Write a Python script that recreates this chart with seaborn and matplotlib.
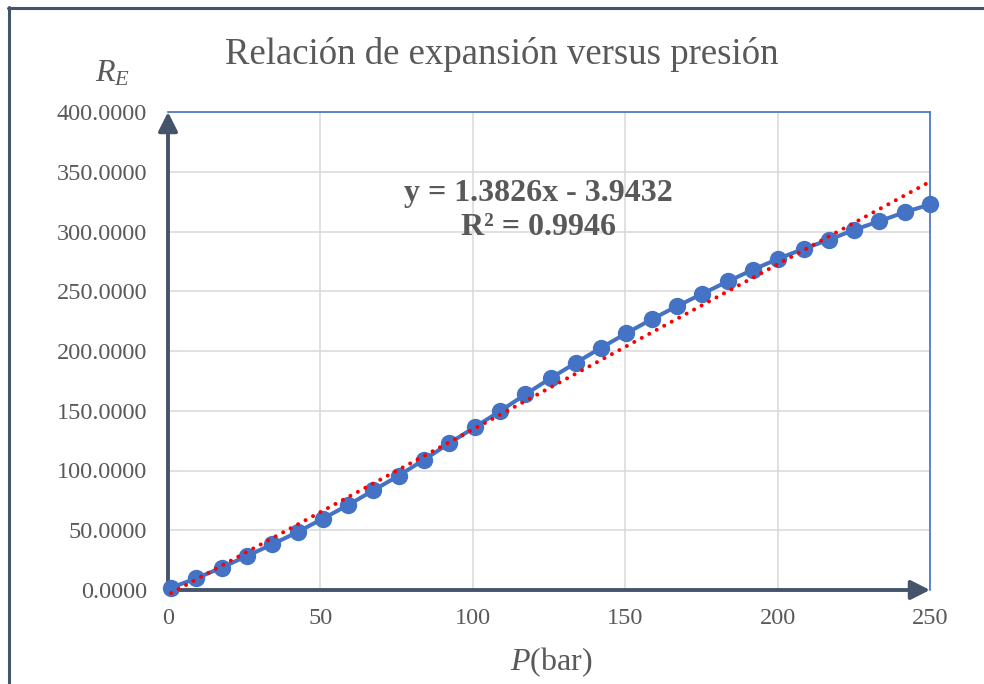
import matplotlib
matplotlib.use("Agg")
import matplotlib.pyplot as plt
import numpy as np
import pandas as pd
import seaborn as sns
from matplotlib.lines import Line2D

# ---- data ----
pressure = [1, 9.3, 17.6, 25.9, 34.2, 42.5, 50.8, 59.1, 67.4, 75.7, 84, 92.3,
            100.6, 108.9, 117.2, 125.5, 133.8, 142.1, 150.4, 158.7, 167, 175.3,
            183.6, 191.9, 200.2, 208.5, 216.8, 225.1, 233.4, 241.7, 250]
ratio = [1.9, 9.8, 18.7, 28.5, 38.2, 48.5, 59.7, 71.1, 83.4, 95.7, 109, 122.8,
         136.2, 149.6, 163.6, 177.2, 190.1, 202.7, 214.9, 226.5, 237.5, 247.9,
         258.2, 268, 277.2, 285.5, 293, 301.4, 308.6, 316.2, 322.6]
trend_slope = 1.3826
trend_intercept = -3.9432
trend_r2 = 0.9946
x_ticks = [0, 50, 100, 150, 200, 250]
y_ticks = [0, 50, 100, 150, 200, 250, 300, 350, 400]
title = "Relación de expansión versus presión"

sns.set_theme(style="white")
plt.rcParams["font.family"] = ["Liberation Serif", "DejaVu Serif"]
plt.rcParams["mathtext.fontset"] = "custom"
plt.rcParams["mathtext.rm"] = "Liberation Serif"
plt.rcParams["mathtext.it"] = "Liberation Serif:italic"

TXT = "#595959"
BLUE = "#4472C4"
DARK = "#44546A"

fig = plt.figure(figsize=(9.84, 6.84), dpi=100)
fig.patch.set_facecolor("white")
ax = fig.add_axes([168 / 984, 1 - 590 / 684, (930 - 168) / 984, (590 - 112) / 684])

df = pd.DataFrame({"P": pressure, "RE": ratio})
sns.lineplot(data=df, x="P", y="RE", ax=ax, color=BLUE, lw=2.9, marker="o",
             markersize=12.5, markeredgewidth=0, clip_on=False, zorder=3)

tx = np.array([pressure[0], pressure[-1]])
ax.plot(tx, trend_slope * tx + trend_intercept, color="#FF0000", lw=2.9,
        linestyle=(0, (0.01, 2.1)), dash_capstyle="round", zorder=4, clip_on=False)

ax.set_xlim(0, 250)
ax.set_ylim(0, 400)
ax.set_xticks(x_ticks)
ax.set_yticks(y_ticks)
ax.set_xticklabels([str(v) for v in x_ticks])
ax.set_yticklabels([f"{v:.4f}" for v in y_ticks])
ax.tick_params(axis="both", length=0, labelsize=17.5, labelcolor=TXT)
ax.tick_params(axis="x", pad=13)
ax.tick_params(axis="y", pad=15)
ax.set_xlabel("")
ax.set_ylabel("")
ax.grid(True, color="#D9D9D9", lw=1.1)
ax.set_axisbelow(True)

for s in ["top", "right"]:
    ax.spines[s].set_color(BLUE)
    ax.spines[s].set_linewidth(1.2)
for s in ["left", "bottom"]:
    ax.spines[s].set_visible(False)

arrow = dict(arrowstyle="-|>,head_length=1.15,head_width=0.58", color=DARK,
             lw=2.8, shrinkA=0, shrinkB=0, mutation_scale=10)
ax.annotate("", xy=(0, 1), xytext=(0, 0), xycoords="axes fraction",
            textcoords="axes fraction", arrowprops=arrow, zorder=2)
ax.annotate("", xy=(1, 0), xytext=(0, 0), xycoords="axes fraction",
            textcoords="axes fraction", arrowprops=arrow, zorder=2)

ax.text(121.4, 332, f"y = {trend_slope}x - {abs(trend_intercept)}", ha="center",
        va="center", fontsize=23, fontweight="bold", color=TXT)
ax.text(121.4, 303, f"R² = {trend_r2}", ha="center", va="center",
        fontsize=23, fontweight="bold", color=TXT)

fig.text(502 / 984, 1 - 55 / 684, title, ha="center", va="center",
         fontsize=26.5, color=TXT)
fig.text(113 / 984, 1 - 74 / 684, r"$R_E$", ha="center", va="center",
         fontsize=23, color=TXT)
fig.text(551 / 984, 1 - 662 / 684, r"$P$(bar)", ha="center", va="center",
         fontsize=23, color=TXT)

fig.add_artist(Line2D([7.5 / 984, 1], [1 - 8 / 684] * 2, transform=fig.transFigure,
                      color=DARK, lw=2.2))
fig.add_artist(Line2D([8.5 / 984] * 2, [0, 1 - 7 / 684], transform=fig.transFigure,
                      color=DARK, lw=2.2))

fig.savefig("out.png", dpi=100, facecolor="white")
